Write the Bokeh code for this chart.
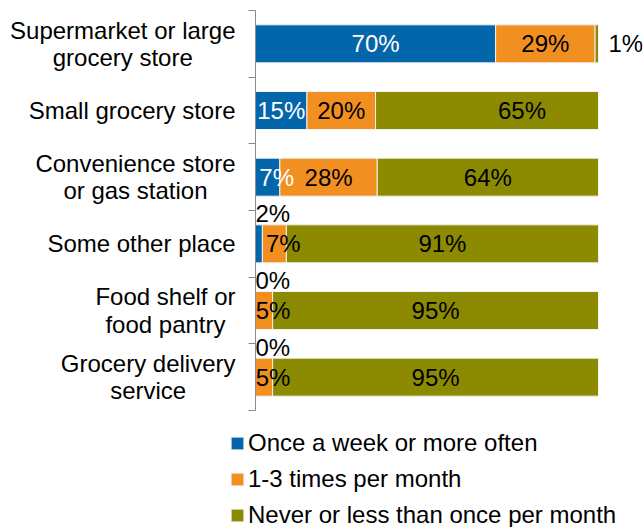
from bokeh.plotting import figure
from bokeh.models import ColumnDataSource, Range1d, FixedTicker, Legend, LinearAxis
from bokeh.core.properties import value
from bokeh.embed import file_html
from bokeh.resources import INLINE

# ---- data ----
categories = [
    "Supermarket or large\ngrocery store",
    "Small grocery store",
    "Convenience store\nor gas station",
    "Some other place",
    "Food shelf or\nfood pantry",
    "Grocery delivery\nservice",
]
series_names = [
    "Once a week or more often",
    "1-3 times per month",
    "Never or less than once per month",
]
weekly = [70, 15, 7.1, 2, 0, 0]
monthly = [29, 20, 28.4, 7, 5, 5]
never = [1, 65, 64.5, 91, 95, 95]

# ---- style ----
colors = ["#0365AA", "#F28F21", "#8C8A00"]
FONT = "Liberation Sans"
FS = "24px"
label_nudge_px = {(1, 2): 35}   # label moved by hand in the original

W, H = 644, 527
BORDER_R = 2
PX = 3.43            # pixels per percentage point
X0 = 255             # pixel position of 0 %
Y_TOP, UNIT = 10, 66.667

n = len(categories)
yc = [n - i - 0.5 for i in range(n)]
keys = ["weekly", "monthly", "never"]
src = ColumnDataSource(dict(y=yc, weekly=weekly, monthly=monthly, never=never))

x_start = -X0 / PX
x_end = (W - BORDER_R - X0) / PX
y_end = n + Y_TOP / UNIT
y_start = y_end - H / UNIT

p = figure(width=W, height=H,
           x_range=Range1d(x_start, x_end), y_range=Range1d(y_start, y_end),
           x_axis_location=None, y_axis_location=None,
           output_backend="svg", toolbar_location=None,
           min_border_left=0, min_border_right=BORDER_R, min_border_top=0,
           min_border_bottom=0)
p.outline_line_color = None
p.grid.visible = False

renderers = p.hbar_stack(keys, y="y", height=0.57, fill_color=colors,
                         line_color="#F2F2F2", line_width=1, source=src)

ax = LinearAxis(ticker=FixedTicker(ticks=list(range(n + 1))),
                fixed_location=0, bounds=(0, n),
                major_tick_in=7, major_tick_out=0, minor_tick_in=0,
                minor_tick_out=0, major_label_standoff=0,
                major_label_overrides={i: "" for i in range(n + 1)},
                axis_line_color="#8A8A8A", major_tick_line_color="#8A8A8A")
p.add_layout(ax, "right")

# category labels (right-aligned block, lines centred)
p.text(x=[0] * n, y=yc, text=categories, x_offset=-20,
       anchor=value("center_right"), text_align="center",
       text_baseline="middle", text_font=value(FONT),
       text_font_size=value(FS), text_color="#000000", text_line_height=1.02)

# data labels
series = [weekly, monthly, never]
inside = dict(x=[], y=[], text=[], color=[], dx=[])
above = dict(x=[], y=[], text=[])
right = dict(x=[], y=[], text=[])
for i in range(n):
    start = 0.0
    for s in range(3):
        v = series[s][i]
        t = f"{v:.0f}%"
        if s == 0 and v < 5:
            above["x"].append(0); above["y"].append(yc[i] + 0.45); above["text"].append(t)
        elif s == 2 and v < 5:
            right["x"].append(start + v); right["y"].append(yc[i]); right["text"].append(t)
        else:
            inside["x"].append(start + v / 2)
            inside["y"].append(yc[i])
            inside["text"].append(t)
            inside["color"].append("#FFFFFF" if s == 0 else "#000000")
            dx = 9 if v < 8 else 0
            dx += label_nudge_px.get((i, s), 0)
            inside["dx"].append(dx)
        start += v

p.text(x="x", y="y", text="text", text_color="color", x_offset="dx",
       source=ColumnDataSource(inside), text_font=value(FONT),
       text_font_size=value(FS), text_align="center", text_baseline="middle")
p.text(x="x", y="y", text="text", source=ColumnDataSource(above),
       text_font=value(FONT), text_font_size=value(FS), text_color="#000000",
       text_align="left", text_baseline="middle")
p.text(x="x", y="y", text="text", source=ColumnDataSource(right), x_offset=10,
       text_font=value(FONT), text_font_size=value(FS), text_color="#000000",
       text_align="left", text_baseline="middle")

legend = Legend(items=[(nm, [r]) for nm, r in zip(series_names, renderers)],
                location=(229, -2), orientation="vertical",
                glyph_width=16, glyph_height=16, label_standoff=3,
                label_height=27, spacing=8, padding=0, margin=0,
                border_line_color=None, background_fill_alpha=0,
                label_text_font=FONT, label_text_font_size=FS,
                label_text_color="#000000")
p.add_layout(legend)

open("out.html", "w").write(file_html(p, INLINE))
